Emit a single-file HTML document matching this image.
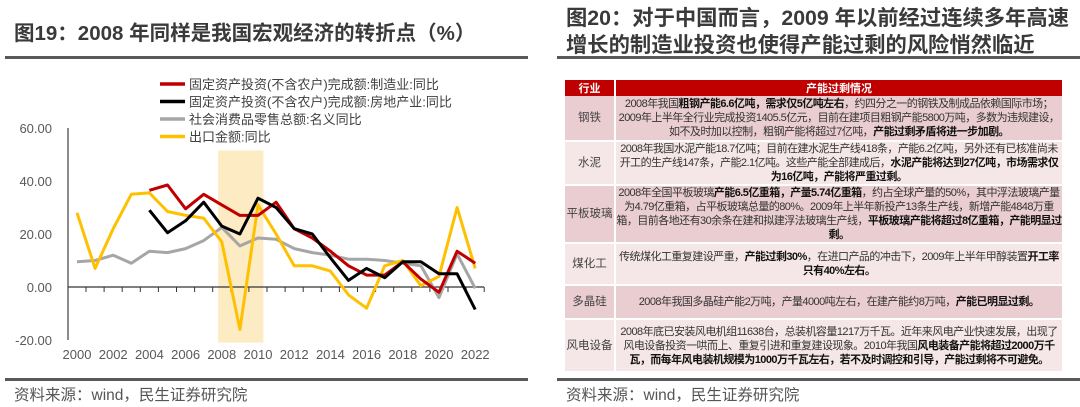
<!DOCTYPE html>
<html><head><meta charset="utf-8">
<style>
body{margin:0;width:1080px;height:407px;background:#fff;position:relative;overflow:hidden;font-family:"Liberation Sans","Noto Sans CJK SC",sans-serif;color:#404040}
.abs{position:absolute}
.t1{left:14px;top:16px;font-size:20.5px;font-weight:bold;color:#3a3a3a;white-space:nowrap}
.t2{left:566px;top:5px;font-size:21.3px;font-weight:bold;color:#3a3a3a;line-height:27px;white-space:nowrap}
.rule{height:3px;background:#595959}
.foot{font-size:15.5px;color:#555;white-space:nowrap}
table{border-collapse:collapse;font-size:11px;color:#333;table-layout:fixed}
td{text-align:center;padding:0;line-height:14px;border-bottom:2px solid #fff;letter-spacing:-0.55px}
td.k{border-right:2px solid #fff;font-size:11.5px;color:#444;letter-spacing:0}
tr.d td{background:#e9cdd0}
tr.l td{background:#f5e6e7}
th{background:#c00000;color:#fff;font-size:11px;height:15px;font-weight:bold;padding:0}
b{color:#111}
</style></head><body>
<div class="abs t1">图19：2008 年同样是我国宏观经济的转折点（%）</div>
<div class="abs rule" style="left:5px;top:56px;width:523px"></div>
<div class="abs t2">图20：对于中国而言，2009 年以前经过连续多年高速<br>增长的制造业投资也使得产能过剩的风险悄然临近</div>
<div class="abs rule" style="left:557px;top:56px;width:523px"></div>

<svg class="abs" style="left:0;top:60px" width="540" height="310"></svg>

<table class="abs" style="left:565px;top:80px;width:497px">
<colgroup><col style="width:50px"><col></colgroup>
<tr><th style="border-right:2px solid #fff">行业</th><th>产能过剩情况</th></tr>
<tr class="d" style="height:45px"><td class="k">钢铁</td><td>2008年我国<b>粗钢产能6.6亿吨，需求仅5亿吨左右</b>，约四分之一的钢铁及制成品依赖国际市场；2009年上半年全行业完成投资1405.5亿元，目前在建项目粗钢产能5800万吨，多数为违规建设，如不及时加以控制，粗钢产能将超过7亿吨，<b>产能过剩矛盾将进一步加剧。</b></td></tr>
<tr class="l" style="height:42px"><td class="k">水泥</td><td>2008年我国水泥产能18.7亿吨；目前在建水泥生产线418条，产能6.2亿吨，另外还有已核准尚未开工的生产线147条，产能2.1亿吨。这些产能全部建成后，<b>水泥产能将达到27亿吨，市场需求仅为16亿吨，产能将严重过剩。</b></td></tr>
<tr class="d" style="height:43px"><td class="k">平板玻璃</td><td>2008年全国平板玻璃<b>产能6.5亿重箱，产量5.74亿重箱</b>，约占全球产量的50%，其中浮法玻璃产量为4.79亿重箱，占平板玻璃总量的80%。2009年上半年新投产13条生产线，新增产能4848万重箱，目前各地还有30余条在建和拟建浮法玻璃生产线，<b>平板玻璃产能将超过8亿重箱，产能明显过剩。</b></td></tr>
<tr class="l" style="height:42px"><td class="k">煤化工</td><td>传统煤化工重复建设严重，<b>产能过剩30%</b>，在进口产品的冲击下，2009年上半年甲醇装置<b>开工率只有40%左右。</b></td></tr>
<tr class="d" style="height:34px"><td class="k">多晶硅</td><td>2008年我国多晶硅产能2万吨，产量4000吨左右，在建产能约8万吨，<b>产能已明显过剩。</b></td></tr>
<tr class="l" style="height:53px"><td class="k">风电设备</td><td>2008年底已安装风电机组11638台，总装机容量1217万千瓦。近年来风电产业快速发展，出现了风电设备投资一哄而上、重复引进和重复建设现象。2010年我国<b>风电装备产能将超过2000万千瓦，而每年风电装机规模为1000万千瓦左右，若不及时调控和引导，产能过剩将不可避免。</b></td></tr>
</table>

<div class="abs rule" style="left:5px;top:378px;width:523px"></div>
<div class="abs rule" style="left:557px;top:378px;width:523px"></div>
<div class="abs foot" style="left:14px;top:383px">资料来源：wind，民生证券研究院</div>
<div class="abs foot" style="left:566px;top:383px">资料来源：wind，民生证券研究院</div>

<script>
const years=[2000,2001,2002,2003,2004,2005,2006,2007,2008,2009,2010,2011,2012,2013,2014,2015,2016,2017,2018,2019,2020,2021,2022];
const manuf=[null,null,null,null,36.5,38.5,29.5,35,31,27,27,32,22,18.5,13.5,8,4.5,4.5,9.5,3,-2,13.5,9];
const realty=[null,null,null,null,29,20.5,25,32,23,20,33.5,30,22,20,11,2.5,7,3.5,9.5,9.5,5,5,-8.5];
const retail=[9.5,10,12,9,13.5,13,14.5,17.5,22.5,15.5,18.5,18,14.5,13,12,10.5,10.5,10,9,8,-4,12.5,-0.5];
const exportsY=[28,7,22,35,35.5,28.5,27,26,17,-16,31,20,8,8,6,-3,-8,8,10,0.5,4,30,7];
const yTicks=[60,40,20,0,-20];
const xLabels=[2000,2002,2004,2006,2008,2010,2012,2014,2016,2018,2020,2022];
const legendNames=["固定资产投资(不含农户)完成额:制造业:同比","固定资产投资(不含农户)完成额:房地产业:同比","社会消费品零售总额:名义同比","出口金额:同比"];
const shadeRange=[2007.8,2010.3];

const svg=document.querySelector('svg');
const NS='http://www.w3.org/2000/svg';
const X=y=>77+(y-2000)*18.1;
const Y=v=>227-v*2.65;
function mk(t,a){const e=document.createElementNS(NS,t);for(const k in a)e.setAttribute(k,a[k]);svg.appendChild(e);return e;}

const sh=mk('rect',{x:X(shadeRange[0]),y:Y(51.5),width:X(shadeRange[1])-X(shadeRange[0]),height:Y(-21)-Y(51.5),fill:'#fdebc4'});



const ax=mk('line',{x1:68,x2:68,y1:Y(60),y2:Y(-20),stroke:'#404040','stroke-width':1.2});


const zx=mk('line',{x1:68,x2:484,y1:Y(0),y2:Y(0),stroke:'#333','stroke-width':1.2});


for(let i=0;i<years.length;i++){
  const t=mk('line',{x1:X(years[i])+9,x2:X(years[i])+9,y1:Y(0),y2:Y(0)+5,stroke:'#333','stroke-width':1});
  
  
}
yTicks.forEach(v=>{
  const t=mk('text',{x:52,y:Y(v)+5,'text-anchor':'end','font-size':13,fill:'#595959'});
  t.textContent=v.toFixed(2);
  
  
});
xLabels.forEach(yr=>{
  const t=mk('text',{x:X(yr),y:299,'text-anchor':'middle','font-size':13,fill:'#595959'});
  t.textContent=yr;
  
  
});
const series=[[retail,'#a6a6a6','series-retail'],[exportsY,'#ffc000','series-exports'],[manuf,'#c00000','series-manufacturing'],[realty,'#000000','series-real-estate']];
series.forEach(([d,c,n])=>{
  let p='';d.forEach((v,i)=>{if(v===null)return;p+=(p?'L':'M')+X(years[i]).toFixed(1)+','+Y(v).toFixed(1);});
  const e=mk('path',{d:p,fill:'none',stroke:c,'stroke-width':3,'stroke-linejoin':'round'});
  
  
});
const lc=['#c00000','#000000','#a6a6a6','#ffc000'];
legendNames.forEach((nm,i)=>{
  const yy=24+i*17.5;
  const l=mk('line',{x1:160,x2:185,y1:yy,y2:yy,stroke:lc[i],'stroke-width':3.5});
  
  
  const t=mk('text',{x:189,y:yy+5,'font-size':13,fill:'#404040'});
  t.textContent=nm;
  
  
});
</script>
</body></html>
